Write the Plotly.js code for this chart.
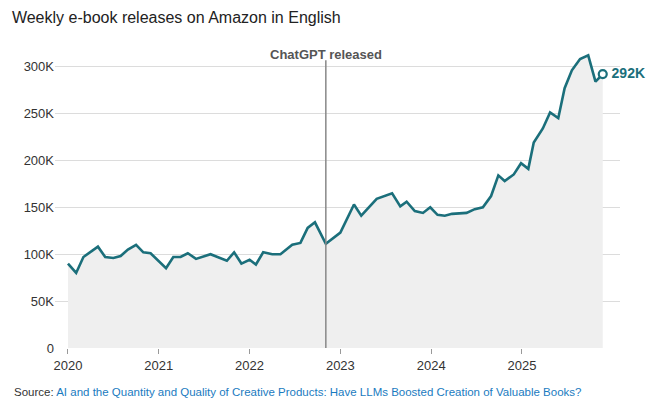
<!DOCTYPE html><html><head><script src="https://cdn.plot.ly/plotly-3.0.1.min.js"></script>
<style>body{margin:0}</style></head><body><div id="c" style="width:662px;height:412px"></div><script>
const years=[2020.00,2020.09,2020.17,2020.33,2020.41,2020.50,2020.58,2020.66,2020.75,2020.83,2020.91,2021.00,2021.08,2021.16,2021.24,2021.32,2021.41,2021.57,2021.70,2021.75,2021.83,2021.91,2022.00,2022.07,2022.15,2022.25,2022.34,2022.47,2022.56,2022.64,2022.72,2022.84,2023.00,2023.15,2023.23,2023.40,2023.57,2023.66,2023.73,2023.82,2023.91,2023.99,2024.07,2024.15,2024.23,2024.39,2024.48,2024.57,2024.66,2024.74,2024.81,2024.91,2024.99,2025.07,2025.13,2025.23,2025.31,2025.40,2025.47,2025.55,2025.64,2025.73,2025.81,2025.89];
const releasesK=[90,80,97,108,97,96,98,105,110,102,101,92,85,97,97,101,95,100,95,93,102,90,94,89,102,100,100,110,112,128,134,111,123,153,141,159,165,151,156,146,144,150,142,141,143,144,148,150,162,184,178,185,197,191,219,234,251,245,277,296,308,312,284,292];
const tickVals=[0,50,100,150,200,250,300];
const tickText=['0','50K','100K','150K','200K','250K','300K'];
const xTicks=[2020,2021,2022,2023,2024,2025];
const chatgptX=2022.84;
const last=releasesK.length-1;
Plotly.newPlot('c',[
{x:years,y:releasesK,type:'scatter',mode:'lines',fill:'tozeroy',fillcolor:'#efefef',line:{color:'#1b6f7b',width:2.6},hoverinfo:'none'},
{x:[years[last]],y:[releasesK[last]],mode:'markers+text',cliponaxis:false,marker:{size:8,color:'white',line:{color:'#1b6f7b',width:2.2}},text:['\u2009'+releasesK[last]+'K'],textposition:'middle right',textfont:{color:'#1b6f7b',size:14,family:'Liberation Sans',weight:'bold'}}
],{
width:662,height:412,showlegend:false,plot_bgcolor:'white',paper_bgcolor:'white',
margin:{l:55,r:42,t:45,b:64},
font:{family:'Liberation Sans, Arial',color:'#333',size:13},
title:{text:'Weekly e-book releases on Amazon in English',x:0.018,xanchor:'left',y:0.972,yanchor:'top',font:{size:16,color:'#222'}},
xaxis:{range:[2019.857,2026.08],tickvals:xTicks,ticktext:xTicks.map(String),showgrid:false,zeroline:false,ticks:'outside',ticklen:5,tickcolor:'#999',showline:false},
yaxis:{range:[0,323],tickvals:tickVals,ticktext:tickText,gridcolor:'#dcdcdc',zeroline:false,showline:false,ticks:''},
shapes:[{type:'line',x0:chatgptX,x1:chatgptX,y0:0,y1:0.95,yref:'paper',xref:'x',line:{color:'#888',width:1.5}}],
annotations:[
{x:chatgptX,y:1,yref:'paper',text:'<b>ChatGPT released</b>',showarrow:false,xanchor:'center',yanchor:'top',font:{size:13,color:'#555'}},
{x:0,xref:'paper',y:-0.145,yref:'paper',xshift:-43,text:'Source: <span style="color:#1a7bbf">AI and the Quantity and Quality of Creative Products: Have LLMs Boosted Creation of Valuable Books?</span>',showarrow:false,xanchor:'left',yanchor:'middle',font:{size:11.5,color:'#333'}}
]},{displayModeBar:false});
</script></body></html>
